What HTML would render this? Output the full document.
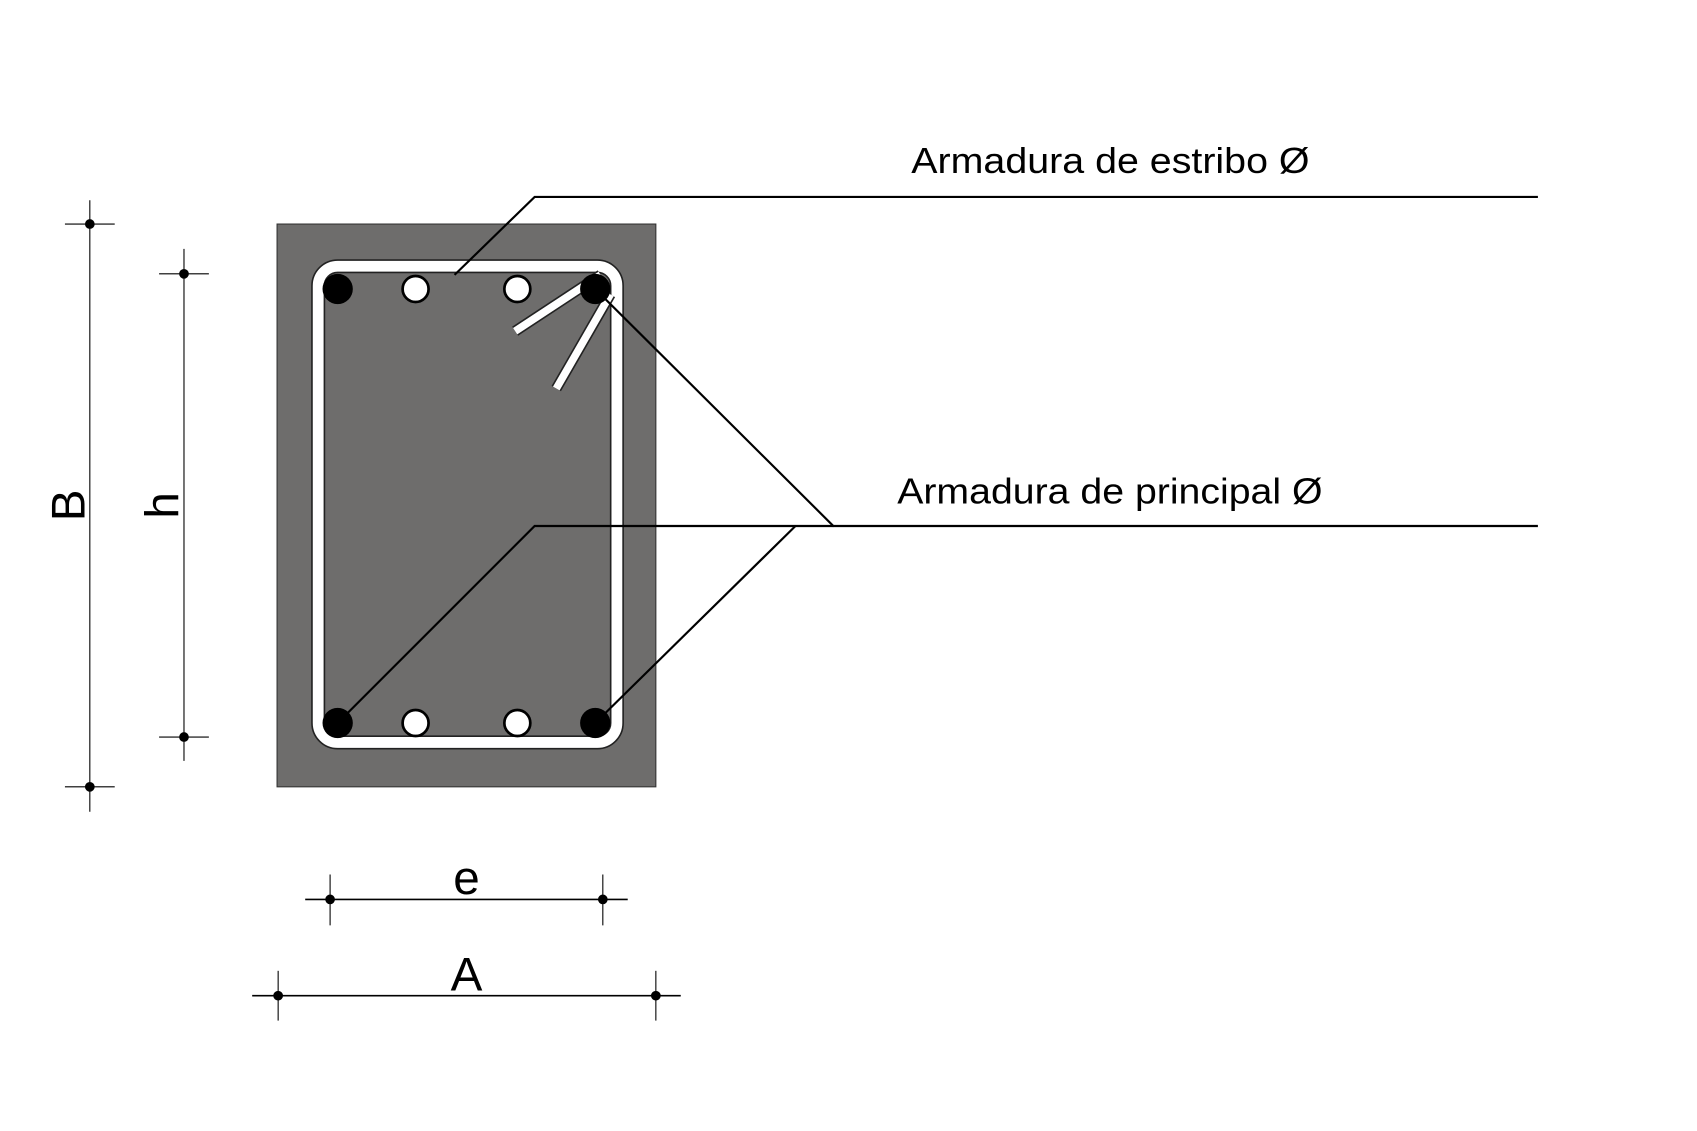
<!DOCTYPE html>
<html><head><meta charset="utf-8"><style>
html,body{margin:0;padding:0;background:#fff;}
svg{display:block;}
text{font-family:"Liberation Sans",Arial,sans-serif;fill:#000;}
</style></head><body>
<svg width="1697" height="1131" viewBox="0 0 1568 1045" preserveAspectRatio="none" xmlns="http://www.w3.org/2000/svg">
<rect width="1568" height="1045" fill="#fff"/>
<rect x="256" y="207" width="350" height="520" fill="#6e6d6c" stroke="#333" stroke-width="1"/>
<g>
<rect x="294" y="246" width="276" height="440" rx="18" fill="none" stroke="#222" stroke-width="13"/>
<rect x="294" y="246" width="276" height="440" rx="18" fill="none" stroke="#fff" stroke-width="10"/>
<line x1="555" y1="254" x2="476" y2="306" stroke="#222" stroke-width="10"/>
<line x1="555" y1="254" x2="476" y2="306" stroke="#fff" stroke-width="7"/>
<line x1="564" y1="272" x2="514" y2="359" stroke="#222" stroke-width="10"/>
<line x1="564" y1="272" x2="514" y2="359" stroke="#fff" stroke-width="7"/>
</g>
<g>
<circle cx="312" cy="267" r="14" fill="#000"/>
<circle cx="550" cy="267" r="14" fill="#000"/>
<circle cx="312" cy="668" r="14" fill="#000"/>
<circle cx="550" cy="668" r="14" fill="#000"/>
</g>
<g fill="#fff" stroke="#000" stroke-width="2.5">
<circle cx="384" cy="267" r="12"/>
<circle cx="478" cy="267" r="12"/>
<circle cx="384" cy="668" r="12"/>
<circle cx="478" cy="668" r="12"/>
</g>
<polyline points="420,254 494,182 1421,182" fill="none" stroke="#000" stroke-width="2"/>
<g fill="none" stroke="#000" stroke-width="2">
<polyline points="550,267 770,486 1421,486"/>
<polyline points="312,668 494,486 770,486"/>
<line x1="550" y1="668" x2="735" y2="486"/>
</g>
<text x="842" y="160" font-size="33" textLength="368" lengthAdjust="spacingAndGlyphs">Armadura de estribo Ø</text>
<text x="829" y="465" font-size="33" textLength="393" lengthAdjust="spacingAndGlyphs">Armadura de principal Ø</text>
<g stroke="#000" stroke-width="1">
<line x1="83" y1="185" x2="83" y2="750"/>
<line x1="60" y1="207" x2="106" y2="207"/>
<line x1="60" y1="727" x2="106" y2="727"/>
<circle cx="83" cy="207" r="4" fill="#000"/>
<circle cx="83" cy="727" r="4" fill="#000"/>
</g>
<text transform="translate(78,467) rotate(-90)" text-anchor="middle" font-size="44">B</text>
<g stroke="#000" stroke-width="1">
<line x1="170" y1="230" x2="170" y2="703"/>
<line x1="147" y1="253" x2="193" y2="253"/>
<line x1="147" y1="681" x2="193" y2="681"/>
<circle cx="170" cy="253" r="4" fill="#000"/>
<circle cx="170" cy="681" r="4" fill="#000"/>
</g>
<text transform="translate(165,467) rotate(-90)" text-anchor="middle" font-size="44">h</text>
<g stroke="#000">
<line x1="282" y1="831" x2="580" y2="831" stroke-width="1.5"/>
<line x1="305" y1="808" x2="305" y2="855" stroke-width="1"/>
<line x1="557" y1="808" x2="557" y2="855" stroke-width="1"/>
<circle cx="305" cy="831" r="4" fill="#000"/>
<circle cx="557" cy="831" r="4" fill="#000"/>
</g>
<text x="431" y="826" text-anchor="middle" font-size="44">e</text>
<g stroke="#000">
<line x1="233" y1="920" x2="629" y2="920" stroke-width="1.5"/>
<line x1="257" y1="897" x2="257" y2="943" stroke-width="1"/>
<line x1="606" y1="897" x2="606" y2="943" stroke-width="1"/>
<circle cx="257" cy="920" r="4" fill="#000"/>
<circle cx="606" cy="920" r="4" fill="#000"/>
</g>
<text x="431" y="915" text-anchor="middle" font-size="44">A</text>
</svg>
</body></html>
